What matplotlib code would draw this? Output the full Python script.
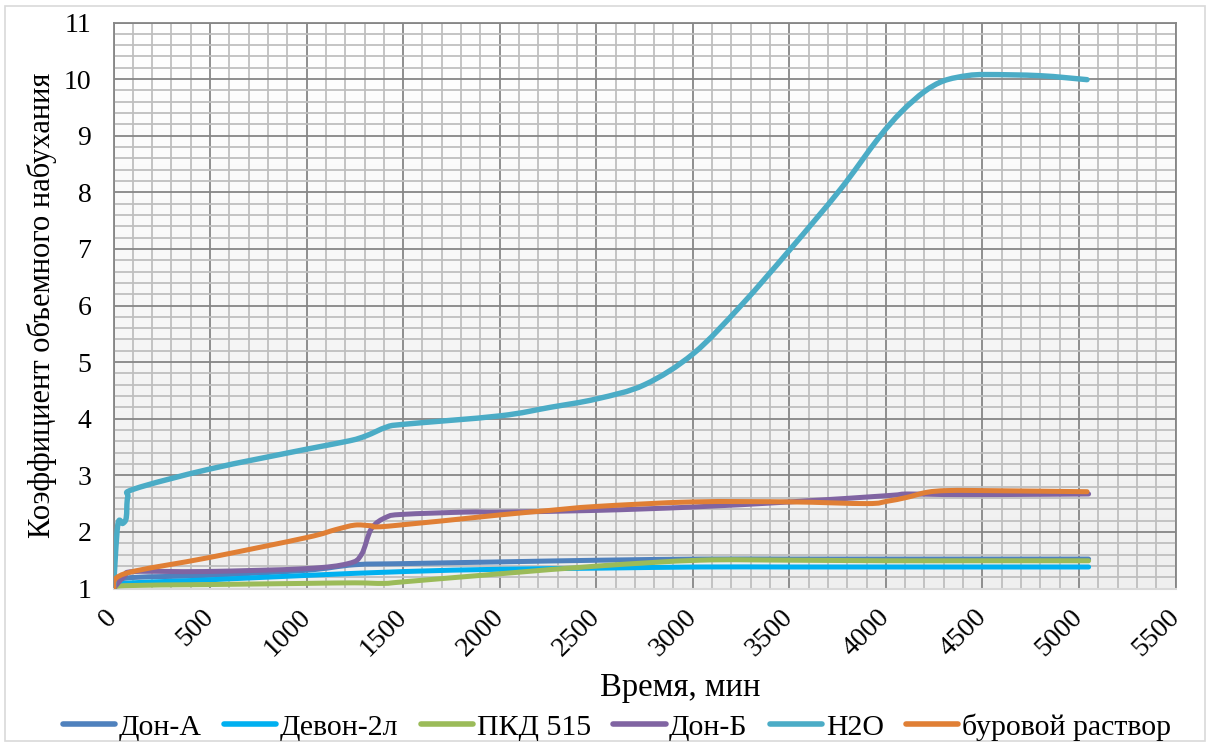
import matplotlib.pyplot as plt
import matplotlib.patches as patches
from matplotlib.path import Path
from matplotlib.lines import Line2D
from matplotlib.colors import LinearSegmentedColormap
import numpy as np

plt.rcParams['font.family'] = ['Liberation Serif', 'DejaVu Serif']

# --- data ---
don_a_x = [0, 57, 472, 990, 1249, 1509, 2001, 2519, 3038, 3500, 4000, 4500, 5050]
don_a_y = [1.0, 1.18, 1.23, 1.32, 1.42, 1.44, 1.47, 1.50, 1.52, 1.52, 1.52, 1.52, 1.52]

devon_x = [0, 57, 472, 990, 1509, 2001, 2519, 3038, 3500, 4000, 4500, 5050]
devon_y = [1.0, 1.09, 1.15, 1.23, 1.30, 1.34, 1.36, 1.38, 1.38, 1.38, 1.38, 1.38]

pkd_x = [0, 57, 500, 990, 1249, 1400, 1509, 2001, 2519, 3038, 3500, 4000, 4500, 5050]
pkd_y = [1.0, 1.05, 1.07, 1.09, 1.10, 1.09, 1.12, 1.26, 1.40, 1.50, 1.50, 1.49, 1.49, 1.49]

don_b_x = [0, 57, 109, 472, 990, 1215, 1284, 1336, 1413, 1500, 1828, 2001,
           2502, 3003, 3504, 4005, 4109, 4300, 4600, 5050]
don_b_y = [1.0, 1.22, 1.30, 1.30, 1.35, 1.44, 1.60, 2.06, 2.26, 2.31, 2.35, 2.35,
           2.38, 2.44, 2.53, 2.64, 2.67, 2.66, 2.66, 2.67]

h2o_x = [0, 22, 48, 66, 74, 109, 498, 998, 1223, 1310, 1413, 1500, 2001, 2260,
         2502, 2750, 3003, 3250, 3504, 3764, 3960, 4080, 4200, 4300, 4420, 4524, 4800, 5042]
h2o_y = [1.0, 2.12, 2.15, 2.25, 2.62, 2.76, 3.11, 3.46, 3.61, 3.70, 3.85,
         3.90, 4.05, 4.20, 4.35, 4.60, 5.15, 6.00, 6.99, 8.05, 8.95, 9.42, 9.78, 9.97, 10.06,
         10.08, 10.06, 9.99]

mud_x = [0, 57, 500, 1000, 1150, 1250, 1330, 1420, 2001, 2260, 2502, 3003, 3504, 3902,
         4005, 4109, 4213, 4316, 4500, 5042]
mud_y = [1.0, 1.26, 1.55, 1.90, 2.04, 2.12, 2.11, 2.10, 2.30, 2.38, 2.45, 2.53, 2.53,
         2.50, 2.54, 2.61, 2.70, 2.73, 2.73, 2.71]

labels = ['Дон-А', 'Девон-2л', 'ПКД 515', 'Дон-Б', 'H2O', 'буровой раствор']
colors = ['#4F81BD', '#00B0F0', '#9BBB59', '#8064A2', '#4BACC6', '#E07F35']
series = [(don_a_x, don_a_y), (devon_x, devon_y), (pkd_x, pkd_y),
          (don_b_x, don_b_y), (h2o_x, h2o_y), (mud_x, mud_y)]


def smooth_path(xs, ys):
    # Excel-like smoothed line: cubic bezier through the points
    p = np.column_stack([xs, ys]).astype(float)
    n = len(p)
    verts = [p[0]]
    codes = [Path.MOVETO]
    for i in range(n - 1):
        p0 = p[i - 1] if i > 0 else p[i]
        p3 = p[i + 2] if i + 2 < n else p[i + 1]
        c1 = p[i] + (p[i + 1] - p0) / 6.0
        c2 = p[i + 1] - (p3 - p[i]) / 6.0
        verts += [c1, c2, p[i + 1]]
        codes += [Path.CURVE4] * 3
    return Path(verts, codes)


fig = plt.figure(figsize=(12.1, 7.44), dpi=100)
fig.patches.append(patches.Rectangle((0.004, 0.004), 0.992, 0.988, transform=fig.transFigure,
                                     fill=False, edgecolor='#D9D9D9', linewidth=1.2))

ax = fig.add_axes([113.5 / 1210, 1 - 588.5 / 744, (1175.5 - 113.5) / 1210, (588.5 - 22.5) / 744])

# background gradient (light grey bottom -> white top)
bg = LinearSegmentedColormap.from_list('bg', ['#EFEFEF', '#FFFFFF'])
ax.imshow(np.linspace(0, 1, 256).reshape(-1, 1), extent=[0, 5500, 1, 11], aspect='auto',
          cmap=bg, origin='lower', zorder=0, vmin=0, vmax=1)

ax.set_xlim(0, 5500)
ax.set_ylim(1, 11)
ax.set_xticks(np.arange(0, 5501, 500))
ax.set_xticks(np.arange(0, 5501, 100), minor=True)
ax.set_yticks(np.arange(1, 11.01, 1))
ax.set_yticks(np.arange(1, 11.01, 0.2), minor=True)
ax.grid(which='minor', color='#BFBFBF', linewidth=1.3, zorder=1)
ax.grid(which='major', color='#868686', linewidth=1.3, zorder=1)
ax.set_axisbelow(True)
ax.tick_params(which='both', length=0)
ax.tick_params(axis='y', labelsize=20, pad=16)
ax.tick_params(axis='x', labelsize=20, pad=18)
for lbl in ax.get_xticklabels():
    lbl.set_rotation(45)
    lbl.set_ha('right')
    lbl.set_va('center')
    lbl.set_rotation_mode('anchor')
for s in ['top', 'right', 'left']:
    ax.spines[s].set_color('#868686')
    ax.spines[s].set_linewidth(1.3)
ax.spines['bottom'].set_color('#D9D9D9')
ax.spines['bottom'].set_linewidth(1.5)

handles = []
for (xs, ys), lab, c in zip(series, labels, colors):
    lw = 3.9 if lab == 'H2O' else 3.6
    ax.add_patch(patches.PathPatch(smooth_path(xs, ys), facecolor='none', edgecolor=c,
                                   linewidth=lw, capstyle='round', joinstyle='round', zorder=3))
    handles.append(Line2D([], [], color=c, linewidth=4, solid_capstyle='round'))

fig.text(680 / 1210, 1 - 688 / 744, 'Время, мин', ha='center', va='center', fontsize=23.5)
fig.text(42 / 1210, 1 - 305 / 744, 'Коэффициент объемного набухания', ha='center', va='center',
         rotation=90, fontsize=22)

fig.legend(handles, labels, loc='center', bbox_to_anchor=(617 / 1210, 1 - 727 / 744), ncol=6,
           frameon=False, fontsize=21.5, handlelength=1.75, handletextpad=0.12, columnspacing=0.75,
           borderpad=0)

fig.savefig('out.png', dpi=100)
